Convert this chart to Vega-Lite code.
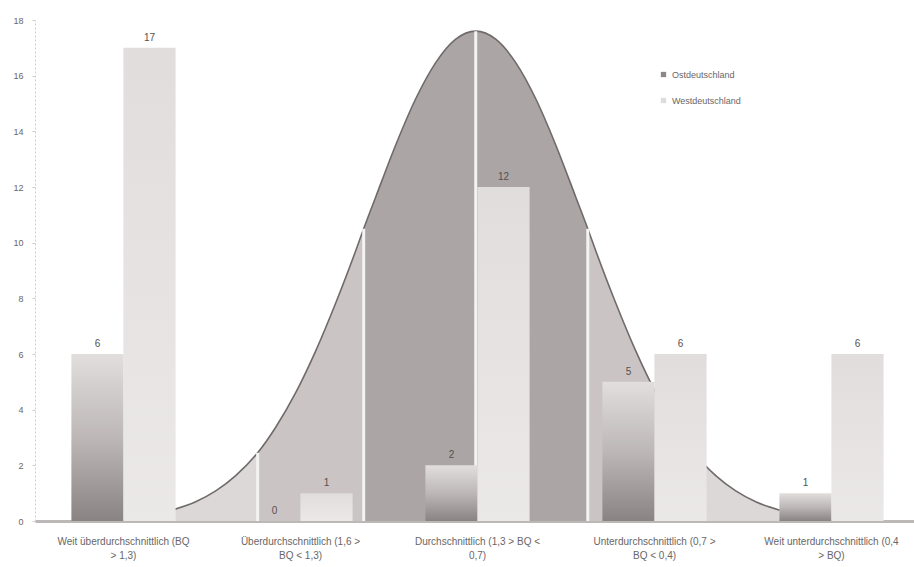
{
  "$schema": "https://vega.github.io/schema/vega-lite/v6.json",
  "width": 885,
  "height": 501,
  "autosize": "none",
  "padding": {"left": 35, "top": 20, "right": 0, "bottom": 46},
  "background": "#ffffff",
  "config": {
    "view": {"stroke": null},
    "font": "Liberation Sans",
    "axis": {"labelFont": "Liberation Sans", "labelColor": "#6a6666"},
    "legend": {"labelFont": "Liberation Sans"}
  },
  "datasets": {
    "bars": [
      {"kat": "Weit überdurchschnittlich (BQ|> 1,3)", "serie": "Ostdeutschland", "wert": 6},
      {"kat": "Weit überdurchschnittlich (BQ|> 1,3)", "serie": "Westdeutschland", "wert": 17},
      {"kat": "Überdurchschnittlich (1,6 >|BQ < 1,3)", "serie": "Ostdeutschland", "wert": 0},
      {"kat": "Überdurchschnittlich (1,6 >|BQ < 1,3)", "serie": "Westdeutschland", "wert": 1},
      {"kat": "Durchschnittlich (1,3 > BQ <|0,7)", "serie": "Ostdeutschland", "wert": 2},
      {"kat": "Durchschnittlich (1,3 > BQ <|0,7)", "serie": "Westdeutschland", "wert": 12},
      {"kat": "Unterdurchschnittlich (0,7 >|BQ < 0,4)", "serie": "Ostdeutschland", "wert": 5},
      {"kat": "Unterdurchschnittlich (0,7 >|BQ < 0,4)", "serie": "Westdeutschland", "wert": 6},
      {"kat": "Weit unterdurchschnittlich (0,4|> BQ)", "serie": "Ostdeutschland", "wert": 1},
      {"kat": "Weit unterdurchschnittlich (0,4|> BQ)", "serie": "Westdeutschland", "wert": 6}
    ],
    "curveArea": [
      {"u": 0.772, "v": 0.39, "seg": "a"}, {"u": 0.908, "v": 0.69, "seg": "a"}, {"u": 1.021, "v": 1.08, "seg": "a"}, {"u": 1.134, "v": 1.63, "seg": "a"}, {"u": 1.258, "v": 2.45, "seg": "a"},
      {"u": 1.258, "v": 2.45, "seg": "b"}, {"u": 1.36, "v": 3.37, "seg": "b"}, {"u": 1.473, "v": 4.61, "seg": "b"}, {"u": 1.586, "v": 6.11, "seg": "b"}, {"u": 1.699, "v": 7.83, "seg": "b"}, {"u": 1.812, "v": 9.71, "seg": "b"}, {"u": 1.857, "v": 10.5, "seg": "b"},
      {"u": 1.857, "v": 10.5, "seg": "c"}, {"u": 1.925, "v": 11.64, "seg": "c"}, {"u": 2.038, "v": 13.51, "seg": "c"}, {"u": 2.151, "v": 15.17, "seg": "c"}, {"u": 2.264, "v": 16.47, "seg": "c"}, {"u": 2.377, "v": 17.31, "seg": "c"}, {"u": 2.49, "v": 17.6, "seg": "c"}, {"u": 2.603, "v": 17.31, "seg": "c"}, {"u": 2.716, "v": 16.47, "seg": "c"}, {"u": 2.829, "v": 15.17, "seg": "c"}, {"u": 2.942, "v": 13.51, "seg": "c"}, {"u": 3.055, "v": 11.64, "seg": "c"}, {"u": 3.123, "v": 10.5, "seg": "c"},
      {"u": 3.123, "v": 10.5, "seg": "d"}, {"u": 3.168, "v": 9.71, "seg": "d"}, {"u": 3.281, "v": 7.83, "seg": "d"}, {"u": 3.394, "v": 6.11, "seg": "d"}, {"u": 3.507, "v": 4.61, "seg": "d"}, {"u": 3.62, "v": 3.37, "seg": "d"}, {"u": 3.722, "v": 2.45, "seg": "d"},
      {"u": 3.722, "v": 2.45, "seg": "e"}, {"u": 3.846, "v": 1.63, "seg": "e"}, {"u": 3.959, "v": 1.08, "seg": "e"}, {"u": 4.072, "v": 0.69, "seg": "e"}, {"u": 4.208, "v": 0.39, "seg": "e"}
    ],
    "curveLine": [
      {"u": 0.772, "v": 0.39}, {"u": 0.908, "v": 0.69}, {"u": 1.021, "v": 1.08}, {"u": 1.134, "v": 1.63}, {"u": 1.258, "v": 2.45},
      {"u": 1.36, "v": 3.37}, {"u": 1.473, "v": 4.61}, {"u": 1.586, "v": 6.11}, {"u": 1.699, "v": 7.83}, {"u": 1.812, "v": 9.71}, {"u": 1.857, "v": 10.5},
      {"u": 1.925, "v": 11.64}, {"u": 2.038, "v": 13.51}, {"u": 2.151, "v": 15.17}, {"u": 2.264, "v": 16.47}, {"u": 2.377, "v": 17.31}, {"u": 2.49, "v": 17.6},
      {"u": 2.603, "v": 17.31}, {"u": 2.716, "v": 16.47}, {"u": 2.829, "v": 15.17}, {"u": 2.942, "v": 13.51}, {"u": 3.055, "v": 11.64}, {"u": 3.123, "v": 10.5},
      {"u": 3.168, "v": 9.71}, {"u": 3.281, "v": 7.83}, {"u": 3.394, "v": 6.11}, {"u": 3.507, "v": 4.61}, {"u": 3.62, "v": 3.37}, {"u": 3.722, "v": 2.45},
      {"u": 3.846, "v": 1.63}, {"u": 3.959, "v": 1.08}, {"u": 4.072, "v": 0.69}, {"u": 4.208, "v": 0.39}
    ],
    "rules": [
      {"u": 1.258, "v": 2.45}, {"u": 1.857, "v": 10.5}, {"u": 2.49, "v": 17.6}, {"u": 3.123, "v": 10.5}, {"u": 3.722, "v": 2.45}
    ]
  },
  "layer": [
    {
      "layer": [
        {
          "data": {"name": "curveArea"},
          "mark": {"type": "area", "interpolate": "monotone"},
          "encoding": {
            "x": {"field": "u", "type": "quantitative", "scale": {"domain": [0, 5], "nice": false, "zero": false}, "axis": null},
            "y": {"field": "v", "type": "quantitative", "stack": null, "scale": {"domain": [0, 18], "nice": false}, "axis": {"title": null, "values": [0,2,4,6,8,10,12,14,16,18], "grid": false, "tickSize": 3, "tickColor": "#d0cccc", "domainColor": "#d0cccc", "domainDash": [2,2], "labelFontSize": 9, "labelPadding": 9}},
            "color": {"field": "seg", "type": "nominal", "scale": {"domain": ["a","b","c","d","e"], "range": ["#dcd8d8", "#cac4c4", "#aba5a5", "#cac4c4", "#dcd8d8"]}, "legend": null}
          }
        },
        {
          "data": {"name": "curveLine"},
          "mark": {"type": "line", "interpolate": "monotone", "color": "#706a6a", "strokeWidth": 1.6},
          "encoding": {
            "x": {"field": "u", "type": "quantitative"},
            "y": {"field": "v", "type": "quantitative"}
          }
        },
        {
          "data": {"name": "rules"},
          "mark": {"type": "rule", "color": "#f4f2f2", "strokeWidth": 3},
          "encoding": {
            "x": {"field": "u", "type": "quantitative"},
            "y": {"field": "v", "type": "quantitative"},
            "y2": {"datum": 0}
          }
        }
      ]
    },
    {
      "data": {"name": "bars"},
      "encoding": {
        "x": {"field": "kat", "type": "nominal", "sort": null, "scale": {"paddingInner": 0.41, "paddingOuter": 0.205}, "axis": {"title": null, "orient": "bottom", "labelAngle": 0, "labelExpr": "split(datum.value, '|')", "labelFontSize": 10, "labelLineHeight": 14, "labelPadding": 15, "labelLimit": 0, "ticks": false, "domainColor": "#bdb8b8", "domainWidth": 3}},
        "y": {"field": "wert", "type": "quantitative", "scale": {"domain": [0, 18], "nice": false}, "axis": {"title": null, "values": [0,2,4,6,8,10,12,14,16,18], "grid": false, "tickSize": 3, "tickColor": "#d0cccc", "domainColor": "#d0cccc", "domainDash": [2,2], "labelFontSize": 9, "labelPadding": 9}}
      },
      "layer": [
        {
          "mark": {"type": "square", "opacity": 0, "size": 1},
          "encoding": {
            "color": {"field": "serie", "type": "nominal", "scale": {"domain": ["Ostdeutschland", "Westdeutschland"], "range": ["#8d8686", "#e0dcdc"]}, "legend": {"title": null, "orient": "none", "legendX": 624, "legendY": 50, "symbolType": "square", "symbolSize": 28, "symbolOpacity": 1, "symbolStrokeWidth": 0, "labelFontSize": 9, "labelColor": "#6a6666", "rowPadding": 16}}
          }
        },
        {
          "transform": [{"filter": "datum.serie === 'Ostdeutschland'"}],
          "mark": {"type": "bar", "width": {"band": 0.5}, "xOffset": -26, "color": {"gradient": "linear", "x1": 0, "y1": 1, "x2": 0, "y2": 0, "stops": [{"offset": 0, "color": "#8a8383"}, {"offset": 0.5, "color": "#bdb7b7"}, {"offset": 1, "color": "#e2dede"}]}}
        },
        {
          "transform": [{"filter": "datum.serie === 'Westdeutschland'"}],
          "mark": {"type": "bar", "width": {"band": 0.5}, "xOffset": 26, "color": {"gradient": "linear", "x1": 0, "y1": 1, "x2": 0, "y2": 0, "stops": [{"offset": 0, "color": "#ebe8e8"}, {"offset": 1, "color": "#e1dddd"}]}}
        },
        {
          "transform": [{"filter": "datum.serie === 'Ostdeutschland'"}],
          "mark": {"type": "text", "baseline": "bottom", "dy": -5, "xOffset": -26, "fontSize": 10, "color": "#555050"},
          "encoding": {"text": {"field": "wert", "type": "quantitative"}}
        },
        {
          "transform": [{"filter": "datum.serie === 'Westdeutschland'"}],
          "mark": {"type": "text", "baseline": "bottom", "dy": -5, "xOffset": 26, "fontSize": 10, "color": "#555050"},
          "encoding": {"text": {"field": "wert", "type": "quantitative"}}
        }
      ]
    }
  ],
  "resolve": {"scale": {"x": "independent", "color": "independent"}, "axis": {"x": "independent"}, "legend": {"color": "independent"}}
}
